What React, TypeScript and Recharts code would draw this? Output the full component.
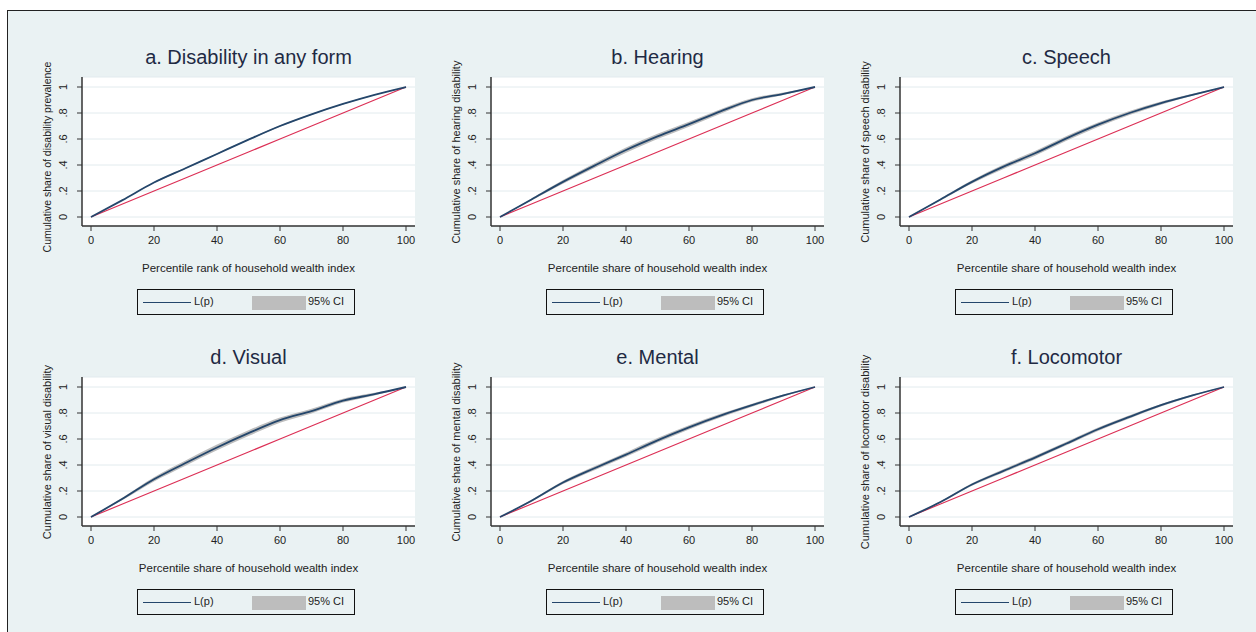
import React from 'react';
import { ComposedChart, Line, Area, XAxis, YAxis, CartesianGrid } from 'recharts';

// percentile of household wealth index (x) and cumulative shares
const pct = [0, 10, 20, 30, 40, 50, 60, 70, 80, 90, 100];
const equality = [0, 0.1, 0.2, 0.3, 0.4, 0.5, 0.6, 0.7, 0.8, 0.9, 1];

const anyForm = [0, 0.13, 0.265, 0.375, 0.485, 0.595, 0.7, 0.79, 0.87, 0.94, 1];
const hearing = [0, 0.135, 0.27, 0.395, 0.515, 0.62, 0.714, 0.812, 0.9, 0.948, 1];
const speech = [0, 0.135, 0.27, 0.387, 0.49, 0.605, 0.71, 0.8, 0.876, 0.94, 1];
const visual = [0, 0.14, 0.29, 0.415, 0.535, 0.645, 0.745, 0.815, 0.895, 0.945, 1];
const mental = [0, 0.125, 0.265, 0.375, 0.48, 0.59, 0.69, 0.78, 0.86, 0.935, 1];
const locomotor = [0, 0.115, 0.25, 0.355, 0.457, 0.565, 0.675, 0.77, 0.86, 0.935, 1];

// half width of the 95% CI band
const anyFormCi = [0, 0.003, 0.004, 0.005, 0.005, 0.005, 0.005, 0.005, 0.004, 0.003, 0];
const hearingCi = [0, 0.008, 0.014, 0.018, 0.02, 0.02, 0.019, 0.017, 0.014, 0.01, 0];
const speechCi = [0, 0.008, 0.013, 0.017, 0.018, 0.018, 0.017, 0.015, 0.012, 0.008, 0];
const visualCi = [0, 0.01, 0.016, 0.02, 0.022, 0.022, 0.02, 0.018, 0.015, 0.01, 0];
const mentalCi = [0, 0.007, 0.012, 0.015, 0.017, 0.017, 0.016, 0.014, 0.012, 0.008, 0];
const locomotorCi = [0, 0.006, 0.01, 0.013, 0.014, 0.014, 0.013, 0.012, 0.01, 0.007, 0];

const titles = ['a. Disability in any form', 'b. Hearing', 'c. Speech', 'd. Visual', 'e. Mental', 'f. Locomotor'];
const yTitles = [
  'Cumulative share of disability prevalence',
  'Cumulative share of hearing disability',
  'Cumulative share of speech disability',
  'Cumulative share of visual disability',
  'Cumulative share of mental disability',
  'Cumulative share of locomotor disability',
];
const xTitles = [
  'Percentile rank of household wealth index',
  'Percentile share of household wealth index',
  'Percentile share of household wealth index',
  'Percentile share of household wealth index',
  'Percentile share of household wealth index',
  'Percentile share of household wealth index',
];
const xTicks = [0, 20, 40, 60, 80, 100];
const yTicks = [0, 0.2, 0.4, 0.6, 0.8, 1];
const yTickLabels = ['0', '.2', '.4', '.6', '.8', '1'];
const legendLabels = ['L(p)', '95% CI'];

const curves = [anyForm, hearing, speech, visual, mental, locomotor];
const cis = [anyFormCi, hearingCi, speechCi, visualCi, mentalCi, locomotorCi];

const BG = '#eaf2f3';
const NAVY = '#24466b';
const RED = '#dc2f55';
const GREY = '#bdbdbd';
const FONT = '"Liberation Sans", Arial, sans-serif';

const YTick = (props: any) => {
  const { x, y, payload } = props;
  let best = 0;
  yTicks.forEach((t, i) => {
    if (Math.abs(t - payload.value) < Math.abs(yTicks[best] - payload.value)) best = i;
  });
  return (
    <text x={x} y={y} transform={`rotate(-90 ${x} ${y})`} textAnchor="middle"
      fontSize={11} fill="#222" fontFamily={FONT}>
      {yTickLabels[best]}
    </text>
  );
};

const Panel = ({ idx }: { idx: number }) => {
  const col = idx % 3;
  const row = Math.floor(idx / 3);
  const left = col * 409;
  const top = row * 300;
  const vals = curves[idx];
  const ci = cis[idx];
  const data = pct.map((p, i) => ({
    p,
    lp: vals[i],
    band: [vals[i] - ci[i], vals[i] + ci[i]],
    eq: equality[i],
  }));
  const yTitleCenter = idx === 0 ? 157 : 151.5;

  return (
    <div style={{ position: 'absolute', left, top, width: 420, height: 300, fontFamily: FONT }}>
      <div style={{ position: 'absolute', left: 248.5, top: 57, transform: 'translate(-50%, -50%)',
        fontSize: 20, color: '#1f2a44', whiteSpace: 'nowrap' }}>{titles[idx]}</div>
      <div style={{ position: 'absolute', left: 47, top: yTitleCenter,
        transform: 'translate(-50%, -50%) rotate(-90deg)', fontSize: idx === 0 ? 10.5 : 11,
        color: '#222', whiteSpace: 'nowrap' }}>{yTitles[idx]}</div>
      <div style={{ position: 'absolute', left: 248.5, top: 268, transform: 'translate(-50%, -50%)',
        fontSize: 11.5, color: '#222', whiteSpace: 'nowrap' }}>{xTitles[idx]}</div>

      <ComposedChart width={420} height={300} data={data}
        margin={{ top: 77, right: 5, bottom: 44, left: 42 }}
        style={{ position: 'absolute', left: 0, top: 0 }}>
        <CartesianGrid vertical={false} fill="#ffffff" stroke="#e2ebee" strokeWidth={1} />
        <XAxis dataKey="p" type="number" domain={[0, 100]} ticks={xTicks} height={30}
          padding={{ left: 9, right: 9 }} tickSize={5} tickMargin={5}
          axisLine={{ stroke: '#333', strokeWidth: 1.5 }} tickLine={{ stroke: '#333' }}
          tick={{ fontSize: 11, fill: '#222', fontFamily: FONT }} />
        <YAxis type="number" domain={[0, 1]} ticks={yTicks} width={40}
          padding={{ top: 10, bottom: 9 }} tickSize={5} tickMargin={10}
          axisLine={{ stroke: '#333', strokeWidth: 1.5 }} tickLine={{ stroke: '#333' }}
          tick={<YTick />} />
        <Line dataKey="eq" type="linear" stroke={RED} strokeWidth={1.2} dot={false}
          activeDot={false} isAnimationActive={false} />
        <Area dataKey="band" type="monotone" stroke="none" fill={GREY} fillOpacity={1}
          activeDot={false} isAnimationActive={false} />
        <Line dataKey="lp" type="monotone" stroke={NAVY} strokeWidth={1.8} dot={false}
          activeDot={false} isAnimationActive={false} />
      </ComposedChart>

      <div style={{ position: 'absolute', left: 137, top: 289, width: 216, height: 24,
        border: '1.5px solid #111', background: BG }}>
        <div style={{ position: 'absolute', left: 5, top: 12, width: 48, height: 0,
          borderTop: `1.5px solid ${NAVY}` }} />
        <div style={{ position: 'absolute', left: 56, top: 5, fontSize: 11, color: '#222' }}>{legendLabels[0]}</div>
        <div style={{ position: 'absolute', left: 114, top: 6, width: 54, height: 14, background: GREY }} />
        <div style={{ position: 'absolute', left: 170, top: 5, fontSize: 11, color: '#222' }}>{legendLabels[1]}</div>
      </div>
    </div>
  );
};

export default function App() {
  return (
    <div style={{ position: 'absolute', left: 0, top: 0, width: 1256, height: 632, background: '#fff', overflow: 'hidden' }}>
      <div style={{ position: 'absolute', left: 7, top: 10, width: 1260, height: 640,
        border: '1.5px solid #222', background: BG }} />
      {titles.map((_, i) => <Panel key={i} idx={i} />)}
    </div>
  );
}
